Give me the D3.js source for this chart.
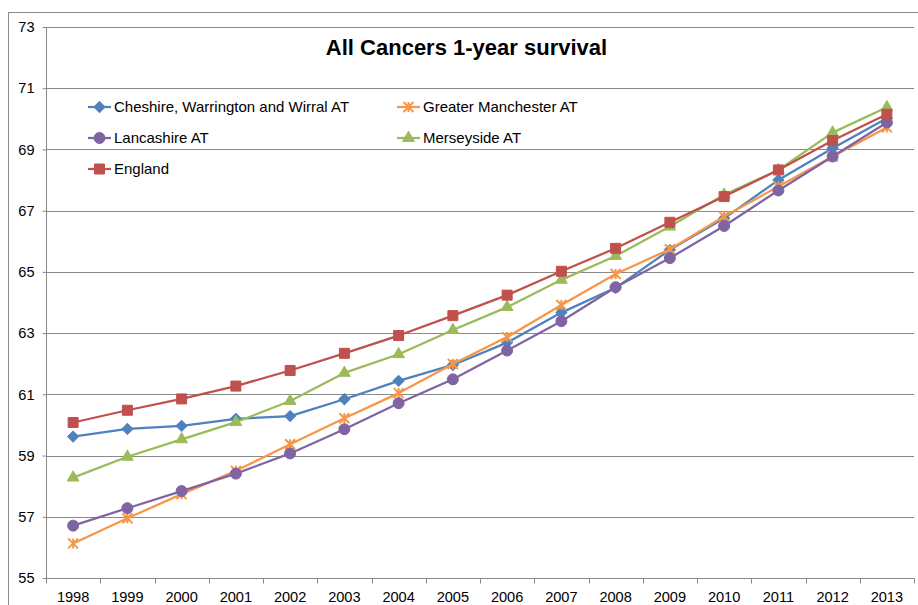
<!DOCTYPE html>
<html>
<head>
<meta charset="utf-8">
<script src="https://cdn.jsdelivr.net/npm/d3@7"></script>
<style>
  body { margin: 0; background: #fff; }
  svg { display: block; font-family: "Liberation Sans", Arial, sans-serif; }
</style>
</head>
<body>
<svg width="918" height="605"></svg>
<script>
// Years on the x axis
var years = ["1998","1999","2000","2001","2002","2003","2004","2005",
             "2006","2007","2008","2009","2010","2011","2012","2013"];

// Survival values (%)
var cheshire   = [59.62,59.87,59.97,60.20,60.29,60.84,61.44,61.96,62.69,63.67,64.48,65.72,66.75,68.00,69.04,70.02];
var manchester = [56.13,56.95,57.74,58.50,59.37,60.22,61.04,61.99,62.87,63.92,64.93,65.74,66.81,67.79,68.77,69.72];
var lancashire = [56.71,57.28,57.84,58.41,59.07,59.86,60.71,61.49,62.43,63.39,64.50,65.45,66.50,67.66,68.77,69.88];
var merseyside = [58.28,58.96,59.53,60.09,60.78,61.70,62.31,63.10,63.85,64.74,65.52,66.48,67.52,68.33,69.55,70.38];
var england    = [60.08,60.48,60.85,61.27,61.78,62.34,62.92,63.57,64.24,65.02,65.77,66.62,67.46,68.33,69.29,70.15];

var yTicks = [55,57,59,61,63,65,67,69,71,73];

var series = [
  {name: "Cheshire, Warrington and Wirral AT", values: cheshire,   color: "#4F81BD", marker: "diamond"},
  {name: "Greater Manchester AT",              values: manchester, color: "#F79646", marker: "star"},
  {name: "Lancashire AT",                      values: lancashire, color: "#8064A2", marker: "circle"},
  {name: "Merseyside AT",                      values: merseyside, color: "#9BBB59", marker: "triangle"},
  {name: "England",                            values: england,    color: "#C0504D", marker: "square"}
];

var svg = d3.select("svg");
var grid = "#898989";

// chart area border (runs off the right and bottom of the picture)
svg.append("rect")
  .attr("x", 8.5).attr("y", 12.5)
  .attr("width", 930).attr("height", 620)
  .attr("fill", "none").attr("stroke", grid);

// plot area edges
var pLeft = 46, pRight = 914, pTop = 27, pBottom = 578;

var x = d3.scaleBand().domain(years).range([pLeft, pRight]).paddingInner(0).paddingOuter(0);
var y = d3.scaleLinear().domain([55, 73]).range([pBottom, pTop]);

// horizontal gridlines
svg.append("g").selectAll("line")
  .data(yTicks.filter(function(d) { return d !== 55; }))
  .enter().append("line")
  .attr("x1", pLeft).attr("x2", pRight)
  .attr("y1", function(d) { return Math.round(y(d)) + 0.5; })
  .attr("y2", function(d) { return Math.round(y(d)) + 0.5; })
  .attr("stroke", grid).attr("stroke-width", 1);

// y axis
var yAxis = d3.axisLeft(y).tickValues(yTicks).tickSize(4).tickPadding(8);
var gy = svg.append("g")
  .attr("transform", "translate(" + (pLeft + 0.5) + ",0)")
  .call(yAxis);
gy.selectAll("line, path").attr("stroke", grid);
gy.select(".domain").attr("d", "M0," + pTop + "V" + (pBottom + 0.5));
gy.selectAll("text").attr("font-size", "14.6px").attr("fill", "#000")
  .attr("font-family", "Liberation Sans, Arial, sans-serif");

// x axis: ticks sit at the band boundaries
var gx = svg.append("g").attr("transform", "translate(0," + (pBottom + 0.5) + ")");
gx.append("line").attr("x1", pLeft).attr("x2", pRight + 0.5).attr("stroke", grid);
var bounds = years.map(function(d) { return x(d); }).concat([pRight]);
gx.selectAll("line.tick").data(bounds).enter().append("line")
  .attr("class", "tick")
  .attr("x1", function(d) { return Math.round(d) + 0.5; })
  .attr("x2", function(d) { return Math.round(d) + 0.5; })
  .attr("y1", 0).attr("y2", 5)
  .attr("stroke", grid);
gx.selectAll("text").data(years).enter().append("text")
  .attr("x", function(d) { return x(d) + x.bandwidth() / 2; })
  .attr("y", 23)
  .attr("text-anchor", "middle")
  .attr("font-size", "14.6px")
  .text(function(d) { return d; });

// marker shapes
function markerPath(type) {
  if (type === "diamond") return d3.symbol(d3.symbolSquare, 60)();
  if (type === "circle") return d3.symbol(d3.symbolCircle, 95)();
  if (type === "triangle") return d3.symbol(d3.symbolTriangle, 60)();
  if (type === "square") return d3.symbol(d3.symbolSquare, 100)();
  // star: an X with a vertical bar
  var r = 5;
  return "M" + -r + "," + -r + "L" + r + "," + r +
         "M" + -r + "," + r + "L" + r + "," + -r +
         "M0," + -r + "L0," + r;
}

function drawMarker(sel, s) {
  var p = sel.append("path").attr("d", markerPath(s.marker));
  if (s.marker === "star") {
    p.attr("fill", "none").attr("stroke", s.color).attr("stroke-width", 2);
  } else {
    p.attr("fill", s.color).attr("stroke", s.color).attr("stroke-width", 1);
  }
  if (s.marker === "diamond") p.attr("transform", "rotate(45)");
  return p;
}

var line = d3.line()
  .x(function(d, i) { return x(years[i]) + x.bandwidth() / 2; })
  .y(function(d) { return y(d); });

series.forEach(function(s) {
  var g = svg.append("g");
  g.append("path")
    .attr("d", line(s.values))
    .attr("fill", "none")
    .attr("stroke", s.color)
    .attr("stroke-width", 2.25)
    .attr("stroke-linejoin", "round");
  g.selectAll("g.m").data(s.values).enter().append("g")
    .attr("class", "m")
    .attr("transform", function(d, i) {
      return "translate(" + (x(years[i]) + x.bandwidth() / 2) + "," + y(d) + ")";
    })
    .each(function() { drawMarker(d3.select(this), s); });
});

// title
svg.append("text")
  .attr("x", 466.5).attr("y", 55)
  .attr("text-anchor", "middle")
  .attr("font-size", "22px").attr("font-weight", "bold")
  .text("All Cancers 1-year survival");

// legend
var legendPos = [[88, 107], [397, 107], [88, 138], [397, 138], [88, 169]];
series.forEach(function(s, i) {
  var g = svg.append("g")
    .attr("transform", "translate(" + legendPos[i][0] + "," + legendPos[i][1] + ")");
  g.append("line").attr("x1", 0).attr("x2", 23)
    .attr("stroke", s.color).attr("stroke-width", 2.25);
  drawMarker(g.append("g").attr("transform", "translate(11.5,0)"), s);
  g.append("text")
    .attr("x", 26).attr("y", 0).attr("dy", "0.35em")
    .attr("font-size", "15px")
    .text(s.name);
});
</script>
</body>
</html>
